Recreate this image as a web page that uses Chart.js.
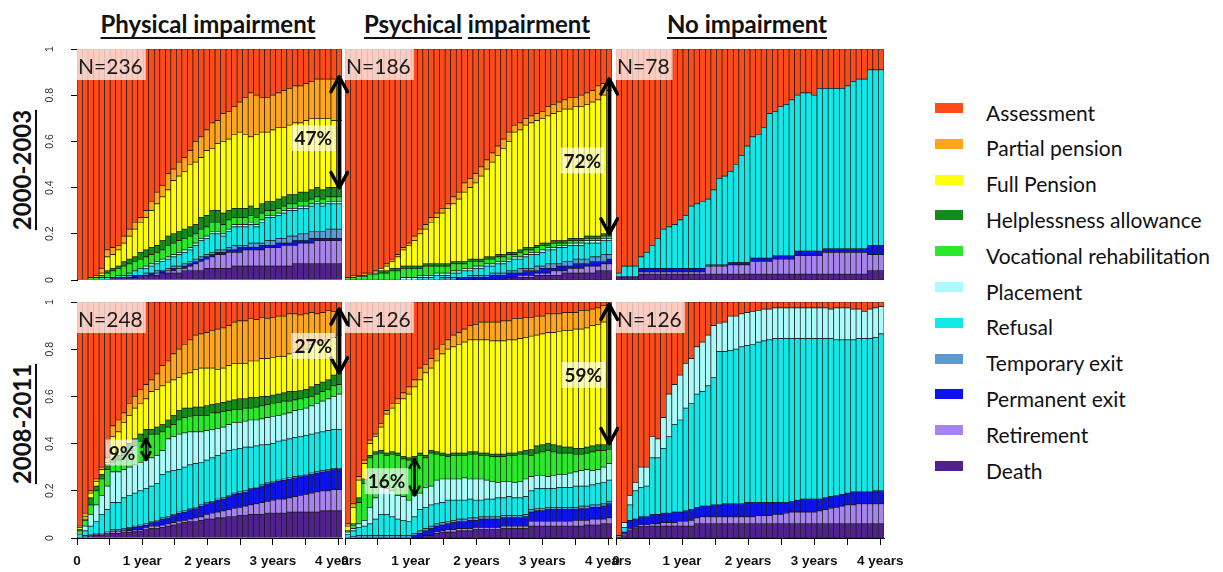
<!DOCTYPE html>
<html lang="en">
<head>
<meta charset="utf-8">
<title>Trajectories after assessment, by impairment and cohort</title>
<script src="https://cdn.jsdelivr.net/npm/chart.js@4.4.1/dist/chart.umd.min.js"></script>
<style>
  html, body { margin: 0; background: #fff; }
  #wrap { position: relative; width: 1223px; height: 572px; overflow: hidden; font-family: Lato, 'Open Sans', sans-serif; color: #111; }
  #wrap canvas { position: absolute; }
  .col-title { position: absolute; top: 10px; font-size: 24px; line-height: 28px; font-weight: 700; white-space: nowrap; transform: translateX(-50%); }
  .col-title span, .row-title { text-decoration: underline; text-decoration-thickness: 2px; text-underline-offset: 4px; }
  .row-title { position: absolute; font-size: 24px; line-height: 28px; font-weight: 700; white-space: nowrap; transform: translate(-50%, -50%) rotate(-90deg); }
  .lg-box { position: absolute; left: 935px; width: 28px; height: 10px; }
  .lg-text { position: absolute; left: 986px; font-size: 21px; line-height: 24px; white-space: nowrap; }
</style>
</head>
<body>
<div id="wrap"></div>
<script>
// ---- categories / labels ----
const states = ['Assessment', 'Partial pension', 'Full Pension', 'Helplessness allowance', 'Vocational rehabilitation',
  'Placement', 'Refusal', 'Temporary exit', 'Permanent exit', 'Retirement', 'Death'];
const stateColors = ['#FF4A1A', '#FFA61E', '#FFFF0A', '#138C1A', '#2AE82A',
  '#AAFCFC', '#12E8E8', '#5B9BD5', '#0B12F0', '#A783EE', '#50218F'];
const months = Array.from({ length: 48 }, (_, i) => i);
const yearTicks = ['0', '1 year', '2 years', '3 years', '4 years'];
const colTitles = ['Physical impairment', 'Psychical impairment', 'No impairment'];
const rowTitles = ['2000-2003', '2008-2011'];
const panelN = ['N=236', 'N=186', 'N=78', 'N=248', 'N=126', 'N=126'];

// ---- data: upper edge of each state in the stack (% of cohort), per month ----
// stack order from the bottom: death, retire, perm, temp, refusal, place, voc, help, full, partial; assessment fills the rest

// Physical impairment, 2000-2003
const phys0003_death   = [0,0,0,0,0,0,1,1,1,1,1,2,2,2,2,3,3,3,3,4,4,4,4,5,5,5,5,5,6,6,6,6,6,6,6,6,6,6,6,7,7,7,7,7,7,7,7,7];
const phys0003_retire  = [0,0,0,0,0,0,0,1,1,1,1,2,2,2,3,3,4,4,5,5,6,7,8,9,10,11,11,12,12,12,13,13,13,13,14,14,14,15,15,15,16,16,16,17,17,17,17,17];
const phys0003_perm    = [0,0,0,0,0,0,1,1,1,1,2,2,2,3,3,4,4,5,5,6,7,8,9,10,11,12,12,13,13,14,14,14,14,15,15,15,16,16,16,17,17,17,18,18,18,18,18,18];
const phys0003_temp    = [0,0,0,0,0,0,1,1,1,2,2,2,3,3,4,4,5,6,6,7,8,9,10,11,12,13,13,14,15,15,15,16,16,16,17,17,18,18,19,19,20,20,21,21,21,22,22,22];
const phys0003_refusal = [0,0,0,0,1,1,1,2,2,3,4,5,5,6,7,8,9,10,11,12,13,15,17,18,20,20,19,21,23,23,23,24,23,25,27,27,28,29,30,30,31,31,32,33,32,33,33,33];
const phys0003_place   = [0,0,0,0,1,1,1,2,2,3,4,5,6,7,8,9,10,11,12,13,14,16,18,19,21,21,20,22,24,24,24,25,24,26,28,28,29,30,31,31,32,32,33,34,33,34,34,34];
const phys0003_voc     = [0,0,1,1,2,3,4,5,6,7,8,9,10,11,12,13,15,16,17,18,19,20,22,23,25,25,24,26,27,27,27,28,27,29,30,30,31,32,33,33,34,34,35,36,35,36,36,36];
const phys0003_help    = [0,0,1,1,2,4,5,6,8,9,10,12,13,14,15,17,19,20,21,22,23,24,27,28,30,30,29,30,31,31,31,32,31,33,34,34,35,36,37,37,38,38,39,40,39,40,40,40];
const phys0003_full    = [0,0,0,1,3,10,11,13,16,19,22,25,27,30,33,36,39,43,45,47,50,51,53,56,57,59,60,61,63,64,63,62,63,64,64,65,66,66,67,68,68,69,70,70,70,70,69,69];
const phys0003_partial = [0,0,1,2,5,13,14,15,19,22,25,27,30,34,38,41,46,48,51,53,56,60,62,65,68,69,72,73,75,77,79,81,80,79,79,80,81,82,83,84,84,85,86,87,87,87,87,88];

// Psychical impairment, 2000-2003
const psych0003_death   = [0,0,0,0,0,0,0,0,0,0,0,0,0,0,0,0,0,0,0,0,0,0,0,0,0,0,0,0,0,1,1,1,1,1,2,2,2,2,2,3,3,3,3,3,3,4,4,4];
const psych0003_retire  = [0,0,0,0,0,0,0,0,0,0,0,0,0,0,0,0,0,0,0,0,0,0,0,0,0,0,0,0,0,1,1,2,2,2,3,3,3,4,4,4,5,5,5,6,6,6,7,7];
const psych0003_perm    = [0,0,0,0,0,0,0,0,0,0,0,0,0,0,0,0,0,0,0,0,1,1,1,1,1,1,2,2,2,3,3,3,4,4,4,5,5,5,6,6,6,7,7,7,8,8,8,9];
const psych0003_temp    = [0,0,0,0,0,0,0,0,0,0,0,0,0,0,0,0,0,1,1,1,1,1,2,2,2,2,3,3,3,4,4,5,5,5,6,6,7,7,7,8,8,9,9,9,10,10,11,11];
const psych0003_refusal = [0,0,0,0,0,0,0,0,0,0,0,0,0,1,1,1,2,2,2,3,3,4,4,5,5,6,6,7,7,8,9,9,10,11,11,12,13,13,14,14,15,15,15,16,16,16,17,17];
const psych0003_place   = [0,0,0,0,0,0,0,0,0,0,1,1,1,2,2,2,3,3,3,4,4,5,5,6,6,7,7,8,8,9,10,10,11,12,12,13,14,14,15,15,16,16,16,17,17,17,18,18];
const psych0003_voc     = [1,1,1.5,1.5,2.5,2.5,3,3,4,4,5,5,5,5,6,6,6,6,6,7,7,7,8,8,8,9,9,10,10,11,11,12,13,13,14,15,15,16,16,16,17,17,17,18,18,18,19,19];
const psych0003_help    = [1,1,2,2,3,3,4,4,5,5,6,6,6,6,7,7,7,7,7,8,8,8,9,9,9,10,10,11,11,12,12,13,14,14,15,16,16,17,17,17,18,18,18,19,19,19,20,20];
const psych0003_full    = [0,0,1,1,2,3.5,5,6,8,10,13,15,17,20,22,25,27,29,31,33,35,38,40,42,45,48,51,54,57,60,64,65,67,68,69,70,71,72,73,74,74,75,75,76,77,78,80,82];
const psych0003_partial = [1,2,2,3,3,4,5,7,9,11,14,16,19,22,24,27,29,31,33,36,38,42,44,46,49,52,55,58,61,64,67,68,70,71,72,73,75,76,77,78,79,79,80,81,82,84,85,87];

// No impairment, 2000-2003
const none0003_death   = [1,1,1,1,2.5,2.5,2.5,2.5,2.5,2.5,2.5,2.5,2.5,2.5,2.5,2.5,2.5,2.5,2.5,2.5,2.5,2.5,2.5,2.5,2.5,2.5,2.5,2.5,2.5,2.5,2.5,2.5,2.5,2.5,2.5,2.5,2.5,2.5,2.5,2.5,2.5,2.5,2.5,2.5,2.5,4,4,4];
const none0003_retire  = [1,1,1,1,3.5,3.5,3.5,3.5,3.5,3.5,3.5,3.5,3.5,3.5,3.5,3.5,6,6,6,6,6.5,6.5,6.5,6.5,8,8,8,8,9,9,9,9,10.5,10.5,10.5,10.5,10.5,12,12,12,12,12,12,12,12,11,11,11];
const none0003_perm    = [1.5,1.5,1.5,1.5,5,5,5,5,5,5,5,5,5,5,5,5,6.5,6.5,6.5,6.5,7.5,7.5,7.5,7.5,9.5,9.5,9.5,9.5,10.5,10.5,10.5,10.5,12.5,12.5,12.5,12.5,12.5,13.5,13.5,13.5,13.5,13.5,13.5,13.5,13.5,15,15,15];
const none0003_refusal = [3,6,6,6,10,12,15,18,22,23,24,26,28,32,33,34,35,39,44,45,47,50,54,58,62,63,66,72,73,75,76,78,80,81,81,80,83,83,83,83,83,84,86,87,87,91,91,91];
const none0003_temp = none0003_perm;       // no temporary exits
const none0003_place = none0003_refusal;   // states above refusal are empty
const none0003_voc = none0003_refusal, none0003_help = none0003_refusal;
const none0003_full = none0003_refusal, none0003_partial = none0003_refusal;

// Physical impairment, 2008-2011
const phys0811_death   = [0,0,0.5,1,1,1.5,2,2,2.5,2.5,3,3,3.5,4,4,4.5,5,5.5,6,6.5,7,7,7.5,8,8,8.5,8.5,9,9,9.5,9.5,10,10,10,10.5,10.5,10.5,10.5,11,11,11,11,11,11,11.5,11.5,11.5,11.5];
const phys0811_retire  = [0,0,0.5,1,1,1.5,2.5,2.5,3,3,3.5,3.5,4.5,5,5,5.5,6,6.5,7,7.5,8,8.5,9,10,10.5,11,11.5,12,12.5,13,13.5,14,14.5,15,15.5,16,16.5,16.5,17,17.5,18,18.5,19,19.5,20,20,20.5,20.5];
const phys0811_perm    = [0,0.5,1,1.5,1.5,2,3,3,3.5,4,4.5,5,5.5,6.5,7,8,8.5,9.5,10.5,11,12,12.5,13.5,14.5,15,16,16.5,17.5,18.5,19,19.5,20.5,21,22,23,23.5,24,24.5,25,25.5,26,26.5,27,27.5,28,28.5,29,29];
const phys0811_temp    = [0,1,1.5,2,2,2.5,3.5,3.5,4,4.5,5,5.5,6,7,7.5,8.5,9,10,11,11.5,12.5,13,14,15,15.5,16.5,17,18,19,19.5,20,21,21.5,22.5,23.5,24,24.5,25,25.5,26,26.5,27,27.5,28,28.5,29,29.5,29.5];
const phys0811_refusal = [1.5,3,5,7,10,12,15,15,17,18,19,20,21,22,23,27,28,28.5,29,30,31,31.5,32,33,34,35,36,37,37.5,38,38.5,38.5,39,39.5,39.7,40,41,41.5,42,42.5,43,43.5,44,44.5,45,45.5,46,46];
const phys0811_place   = [2,5,10,14,18,22,28,28,29,30,31,32,33,34,35,37,42,43,44,44.5,45,45,45,45.5,46,46.5,47,48,49,49,49.5,50,50,50.5,51,51.5,52,52.5,53,54,54.5,55,56,57,58,59,60,61];
const phys0811_voc     = [3,7.5,14,20,25,29,32,33,35,37,39,41,42,44,44,45,47,48,50,51,51.5,52,52,52,53,53,53.5,54,54.5,54.5,55,55,55.5,56,56.5,57,57.5,58,58,58.5,59,59.5,60,61,62,63,64.5,65];
const phys0811_help    = [3.5,8,17,22,27,31,33,35,38,40,42,44,46,46,47,48,50,52,54,55,55,55.5,55.5,56,56.5,57,57.5,58,58.5,59,59,59.5,59.5,60,60,60.5,61,61.5,62,62,62.5,63,64,65,66,67,69,70];
const phys0811_full    = [4.5,9,19,24,29,32,43,45,49,52,55,57,59,62,63,64.5,66,67,68,69.5,70,71.5,72,72,72,71.5,72,73,74,74,74,75,75,76,76,76.5,77,77,78,78.5,79,80,82,83,83.5,84,85,86];
const phys0811_partial = [5,10.5,20,25,30,34,47.5,50,53,57,60,63,65,67,69.5,73,75,78,80,82,84,86,86.5,87,88,88.5,89,90,91.5,92,92,93,92.5,93.5,93,93.5,94,94,95,95,94.5,95,95.5,95,95.5,96.5,96,97];

// Psychical impairment, 2008-2011
const psych0811_death   = [0,0,0,0,0,0,0,0,0,0,0,0,0,0,1,1,2,2.5,2.5,2.5,3,3,3,3.5,3.5,3.5,3.5,3.5,4,4,4,4,4,5,5,5,5,5,5,5,5,5,5,5.5,5.5,5.5,6,6];
const psych0811_retire  = [0,0,0,0,0,0,0,0,0,0,0,0,0,0,1,1,2.5,3,3.5,3.5,4,4,4,4.5,4.5,4.5,4.5,4.5,5,5,5,5,5,7,7,7,7,7,7,7,7,7.5,7.5,7.5,8,8,8,8.5];
const psych0811_perm    = [0,0,0,0,0,0,0,0,0,0,0,0,1,2,3,4,5,5.5,6,6.5,7,7,7.5,7.5,8,8,8,8,8.5,8.5,8.5,8.5,9,11,11.5,11.5,12,12,12,12,12,12,12.5,12.5,13,13,13.5,14.5];
const psych0811_temp    = [0,0.5,1,1,1,1,1,1,1,1,1,1,2,3,4,5,6,6.5,7,7.5,8,8,8.5,8.5,9,9,9,9,9.5,9.5,9.5,9.5,10,12,12.5,12.5,13,13,13,13,13,13,13.5,13.5,14,14,14.5,15.5];
const psych0811_refusal = [1.5,3,4.5,5,6,8,10,10,9,8,7.5,7,9,12,13,14,14.5,15,16,16,16,16,16.5,16,16,16.5,16.5,17,17,17.5,17,17,17.5,20,21,21,21,21,21.5,21.5,21.5,22,22,22,22.5,23,23.5,24.5];
const psych0811_place   = [2.5,4,6,7.5,13,17,21.5,21,20,18,17.5,16,18,19,21.5,22,24.5,25,25,25,25,25.5,25,25,25,24.5,24,23.5,24,24,23.5,24,25,26,26.5,26.5,26,26.5,27,27,27.5,28,28.5,29,28.5,29,30,31.5];
const psych0811_voc     = [2.5,5.5,15,23,34,35.5,36,35,35.5,35,33.5,33,33.5,35,34,36,35.5,35,34.5,35,35,35,35.5,35.5,35,35,34.5,34.5,34.5,35,35,35.5,35.5,35,36,36.5,37,36.5,36,36,36,35.5,35.5,36,36.5,37,37,37.5];
const psych0811_help    = [3,6,17,25,35,36.5,37,36,36.5,36,34.5,34,34.5,36,35,37,36.5,36,35.5,36,36,36,36.5,36.5,36,36,35.5,35.5,35.5,36,36,36.5,37,37.5,39,39.5,40,39.5,39,38.5,38.5,38,38,38.5,39,39.5,39.5,40];
const psych0811_full    = [5,13,24.5,31.5,40,43,47,52.5,55,57,59,61,64,67,70,72,75,78,80,81,82,83,84,84,84,84,83.5,83.5,83.5,84,84,84.5,85,85.5,86,86.5,87,87,87.5,88,88,88.5,88.5,89,90,90.5,91.5,98];
const psych0811_partial = [6,14.5,26,33,41.5,44,48.5,54,57,59,61.5,64,67,72,73.5,76,80,82,84,86,87,88.5,90,90.5,91.5,91.5,91.5,91.5,92,92,93,93,93.5,93.5,94,94,95,95,95,95.5,95.5,95.5,96.5,96.5,97,97.5,98.5,99];

// No impairment, 2008-2011
const none0811_death   = [0,1,3.5,4,5,5,5,5,5,5,5,5,5,5,6,6,6,6,6,6,6,6,6,6,6,6,6,6,6,6,6,6,6,6,6,6,6,6,6,6,6,6,6,6,6,6,6,6];
const none0811_retire  = [0,1.5,4,4.5,5.5,5.5,6,6,6.5,6.5,6.5,7,7,7.5,8.5,9,9,9,9,9,9,9,9,9,9,9.5,9.5,9.5,10,10,10.5,11,11,11,11,11,11.5,12,12.5,13,13.5,14,14,14.5,14.5,14.5,14.5,14.5];
const none0811_perm    = [0.5,2.5,7.5,8,9,9,10,10,10.5,10.5,11,11,11.5,12,13,13.5,13.5,14,14,14.5,14.5,14.5,14.5,15,15,15,15,15,15,15,15,15.5,16,16.5,16.5,16.5,16.5,17,17.5,18,18.5,19,19.5,19.5,19.5,19.5,20,20];
const none0811_refusal = [0.5,4.5,14,20,21.5,22,34,34,38,43,48,50,55,57,61,62,64.5,68,79,79,79.5,80,81,81.5,82,83,83.5,84,84.5,84.5,84.5,84.5,84.5,84.5,84.5,84.5,84.5,84.5,84.5,84,84,84,84,84.5,84.5,84.5,85,86.5];
const none0811_place   = [1,6.5,18,23.5,30,30,43,42,51,61,65,69,74,76,81,83,86,90,91,91.5,94,94,95,95.5,96,96.5,97,97,97.5,97.5,97.5,97.5,97.5,97.5,97.5,97.5,97.5,97.5,97,97.5,97.5,97.5,97,97,96,97,97.5,98];
const none0811_temp = none0811_perm;
const none0811_voc = none0811_place, none0811_help = none0811_place;
const none0811_full = none0811_place, none0811_partial = none0811_place;

const panels = [
  [phys0003_death, phys0003_retire, phys0003_perm, phys0003_temp, phys0003_refusal, phys0003_place, phys0003_voc, phys0003_help, phys0003_full, phys0003_partial],
  [psych0003_death, psych0003_retire, psych0003_perm, psych0003_temp, psych0003_refusal, psych0003_place, psych0003_voc, psych0003_help, psych0003_full, psych0003_partial],
  [none0003_death, none0003_retire, none0003_perm, none0003_temp, none0003_refusal, none0003_place, none0003_voc, none0003_help, none0003_full, none0003_partial],
  [phys0811_death, phys0811_retire, phys0811_perm, phys0811_temp, phys0811_refusal, phys0811_place, phys0811_voc, phys0811_help, phys0811_full, phys0811_partial],
  [psych0811_death, psych0811_retire, psych0811_perm, psych0811_temp, psych0811_refusal, psych0811_place, psych0811_voc, psych0811_help, psych0811_full, psych0811_partial],
  [none0811_death, none0811_retire, none0811_perm, none0811_temp, none0811_refusal, none0811_place, none0811_voc, none0811_help, none0811_full, none0811_partial]
];

// double arrows with the share written beside them
const panelNotes = [
  { arrows: [{ idx: 47, lo: phys0003_help[47], hi: phys0003_partial[47], text: '47%', dx: -26, dy: 6, head: 15, lw: 3.5 }] },
  { arrows: [{ idx: 47, lo: psych0003_help[47], hi: psych0003_partial[47], text: '72%', dx: -27, dy: 4, head: 15, lw: 3.5 }] },
  { arrows: [] },
  { arrows: [{ idx: 47, lo: phys0811_help[47], hi: phys0811_partial[47], text: '27%', dx: -26, dy: 5, head: 15, lw: 3.5 },
             { idx: 12, lo: phys0811_place[12], hi: phys0811_voc[12], text: '9%', dx: -24, dy: 3, head: 8, lw: 2.5 }] },
  { arrows: [{ idx: 47, lo: psych0811_help[47], hi: psych0811_partial[47], text: '59%', dx: -26, dy: 1, head: 15, lw: 3.5 },
             { idx: 12, lo: psych0811_place[12], hi: psych0811_voc[12], text: '16%', dx: -28, dy: 4, head: 9, lw: 2.5 }] },
  { arrows: [] }
];

// ---- layout (px) ----
const PAD = 30, AXW = 36, AXH = 30;
const colX = [[77, 342], [345, 612], [616, 884]];
const rowY = [[49, 280], [302, 538]];
const colTitleX = [208, 477, 747];
const rowTitleY = [170, 424];

const wrap = document.getElementById('wrap');

// cumulative edges -> share of each state, bottom to top, assessment last
function toShares(tops) {
  const prev = new Array(months.length).fill(0);
  const out = tops.map(arr => months.map(i => {
    const t = Math.max(arr[i], prev[i]);
    const s = t - prev[i];
    prev[i] = t;
    return s / 100;
  }));
  out.push(prev.map(p => Math.max(0, 100 - p) / 100));
  return out;
}

function drawDoubleArrow(ctx, x, yTop, yBot, head, lw) {
  ctx.strokeStyle = '#000';
  ctx.lineWidth = lw;
  ctx.lineCap = 'round';
  ctx.lineJoin = 'round';
  ctx.beginPath();
  ctx.moveTo(x, yTop); ctx.lineTo(x, yBot);
  ctx.moveTo(x - head * 0.55, yTop + head); ctx.lineTo(x, yTop); ctx.lineTo(x + head * 0.55, yTop + head);
  ctx.moveTo(x - head * 0.55, yBot - head); ctx.lineTo(x, yBot); ctx.lineTo(x + head * 0.55, yBot - head);
  ctx.stroke();
}

const notesPlugin = {
  id: 'panelNotes',
  afterDatasetsDraw(chart) {
    const k = +chart.canvas.dataset.panel;
    const { ctx, chartArea: a, scales: { x, y } } = chart;
    ctx.save();
    // N= box
    ctx.font = '21px Lato';
    const nw = ctx.measureText(panelN[k]).width;
    ctx.fillStyle = 'rgba(255,255,255,0.72)';
    ctx.fillRect(a.left, a.top, nw + 4, 31);
    ctx.fillStyle = '#1a1a1a';
    ctx.fillText(panelN[k], a.left + 1, a.top + 25);
    // arrows
    panelNotes[k].arrows.forEach(ar => {
      const px = x.getPixelForValue(ar.idx);
      const yTop = y.getPixelForValue(ar.hi / 100);
      const yBot = y.getPixelForValue(ar.lo / 100);
      drawDoubleArrow(ctx, px, yTop, yBot, ar.head, ar.lw);
      ctx.font = 'bold 19px Lato';
      const tw = ctx.measureText(ar.text).width;
      const cx = px + ar.dx, cy = (yTop + yBot) / 2 + ar.dy;
      ctx.fillStyle = 'rgba(255,255,255,0.65)';
      ctx.fillRect(cx - tw / 2 - 3, cy - 13, tw + 6, 26);
      ctx.fillStyle = '#111';
      ctx.textAlign = 'center';
      ctx.textBaseline = 'middle';
      ctx.fillText(ar.text, cx, cy + 1);
      ctx.textAlign = 'left';
      ctx.textBaseline = 'alphabetic';
    });
    ctx.restore();
  }
};

function makePanel(k) {
  const r = Math.floor(k / 3), c = k % 3;
  const [x0, x1] = colX[c], [y0, y1] = rowY[r];
  const showY = c === 0, showX = r === 1;
  const left = x0 - PAD - (showY ? AXW : 0), top = y0 - PAD;
  const w = x1 - x0 + 2 * PAD + (showY ? AXW : 0);
  const h = y1 - y0 + 2 * PAD + (showX ? AXH : 0);

  const cv = document.createElement('canvas');
  cv.width = w; cv.height = h;
  cv.style.left = left + 'px'; cv.style.top = top + 'px';
  cv.style.width = w + 'px'; cv.style.height = h + 'px';
  cv.style.zIndex = 5 - c;
  cv.dataset.panel = k;
  wrap.appendChild(cv);

  const shares = toShares(panels[k]);
  const bottomUpColors = stateColors.slice().reverse();
  const bottomUpNames = states.slice().reverse();
  const datasets = shares.map((data, j) => ({
    label: bottomUpNames[j],
    data,
    backgroundColor: bottomUpColors[j],
    borderColor: '#161616',
    borderWidth: 0.7,
    borderSkipped: false,
    barPercentage: 1,
    categoryPercentage: 1
  }));

  new Chart(cv, {
    type: 'bar',
    data: { labels: months, datasets },
    options: {
      responsive: false,
      animation: false,
      events: [],
      layout: { padding: PAD },
      plugins: { legend: { display: false }, tooltip: { enabled: false } },
      scales: {
        x: { stacked: true, display: false },
        y: {
          stacked: true, min: 0, max: 1,
          display: showY,
          afterFit: s => { if (showY) s.width = AXW; },
          border: { display: true, color: '#000', width: 1 },
          grid: { drawOnChartArea: false, drawTicks: true, tickLength: 6, color: '#000' },
          ticks: { stepSize: 0.2, minRotation: 90, maxRotation: 90, crossAlign: 'center', padding: 14,
                   color: '#333', font: { family: 'Liberation Sans', size: 10.5 },
                   callback: v => String(+v.toFixed(1)) }
        },
        // time axis in months; the 4-year tick sits a little inside the last bar, as in the original
        m: {
          type: 'linear', position: 'bottom', min: 0, max: 48.7, offset: false,
          display: showX,
          afterFit: s => { if (showX) s.height = AXH; },
          afterBuildTicks: s => { s.ticks = [0, 6, 12, 18, 24, 30, 36, 42, 48].map(v => ({ value: v })); },
          border: { display: true, color: '#000', width: 1 },
          grid: { offset: false, drawOnChartArea: false, tickLength: 7, color: '#000' },
          ticks: { autoSkip: false, maxRotation: 0, padding: 8, color: '#111',
                   font: { family: "'Liberation Sans Narrow', 'Liberation Sans'", weight: 'bold', size: 13.5 },
                   callback: v => (v % 12 === 0 ? yearTicks[v / 12] : '') }
        }
      }
    },
    plugins: [notesPlugin]
  });
}

// ---- titles ----
colTitles.forEach((t, c) => {
  const d = document.createElement('div');
  d.className = 'col-title';
  d.style.left = colTitleX[c] + 'px';
  // the middle title has each word underlined on its own
  d.innerHTML = c === 1 ? t.split(' ').map(wd => '<span>' + wd + '</span>').join(' ') : '<span>' + t + '</span>';
  wrap.appendChild(d);
});
rowTitles.forEach((t, r) => {
  const d = document.createElement('div');
  d.className = 'row-title';
  d.style.left = '22px';
  d.style.top = rowTitleY[r] + 'px';
  d.textContent = t;
  wrap.appendChild(d);
});

// ---- legend ----
states.forEach((name, i) => {
  const top = 103 + i * 35.8;
  const b = document.createElement('div');
  b.className = 'lg-box';
  b.style.top = top + 'px';
  b.style.background = stateColors[i];
  wrap.appendChild(b);
  const t = document.createElement('div');
  t.className = 'lg-text';
  t.style.top = (top - 2.4) + 'px';
  t.textContent = name;
  wrap.appendChild(t);
});

for (let k = 0; k < 6; k++) makePanel(k);
</script>
</body>
</html>
